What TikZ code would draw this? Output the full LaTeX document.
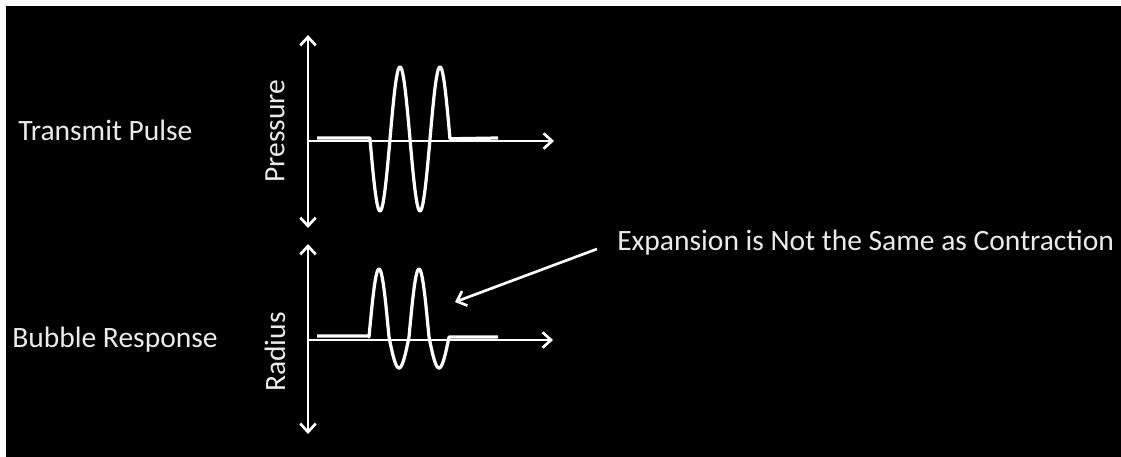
\documentclass[tikz,border=0pt]{standalone}
\usepackage{fontspec}
\setmainfont{Carlito}
\usetikzlibrary{arrows.meta, positioning}

\begin{document}
\begin{tikzpicture}[
    x=0.025cm, y=-0.025cm,
    every node/.style={text=white!92!black, inner sep=0pt, font=\fontsize{21}{24}\selectfont},
    axis/.style={draw=white, line width=1.9pt},
    tip/.style={-{Straight Barb[length=6pt, width=11pt, line width=1.9pt]}},
    wave/.style={draw=white, line width=2.3pt, line join=round},
]
\useasboundingbox (0,0) rectangle (1121,456);
% background with thin white edge top and left
\fill[white] (0,0) rectangle (1121,456);
\fill[black] (6,6) rectangle (1130,465);

% row labels
\node[anchor=west] (tpulse) at (18,130) {Transmit Pulse};
\node[anchor=west] (bresp) at (12,340) {Bubble Response};

% Pressure axes
\coordinate (ptop) at (308,35);
\coordinate (pbot) at (308,228);
\coordinate (porg) at (308,141);
\coordinate (pend) at (554,141);
\draw[axis, {Straight Barb[length=6pt, width=11pt, line width=1.9pt]}-{Straight Barb[length=6pt, width=11pt, line width=1.9pt]}] (ptop) -- (pbot);
\draw[axis, tip] (porg) -- (pend);
\node[rotate=90] (plabel) at (275,131) {Pressure};

% transmit pulse, symmetric
\draw[wave] (317,138) -- (370,138)
  -- plot[domain=0:2, samples=161] ({370+40*\x}, {139+72*sin(360*\x)})
  -- (498,138);

% Radius axes
\coordinate (rtop) at (308,244);
\coordinate (rbot) at (308,434);
\coordinate (rorg) at (308,340);
\coordinate (rend) at (553,340);
\draw[axis, {Straight Barb[length=6pt, width=11pt, line width=1.9pt]}-{Straight Barb[length=6pt, width=11pt, line width=1.9pt]}] (rtop) -- (rbot);
\draw[axis, tip] (rorg) -- (rend);
\node[rotate=90] (rlabel) at (275,352) {Radius};

% bubble response, expansion larger than contraction
\draw[wave] (317,336) -- (369,336)
  -- plot[domain=0:2, samples=161] ({369+40*\x}, {337-68*max(sin(360*\x),0)-31*min(sin(360*\x),0)})
  -- (498,337);

% note with pointer
\node[anchor=west] (note) at (617,243) {Expansion is Not the Same as Contraction};
\coordinate (notetip) at (455,302);
\draw[axis, tip] ([xshift=-0.5cm, yshift=-0.15cm]note.west) -- (notetip);
\end{tikzpicture}
\end{document}
